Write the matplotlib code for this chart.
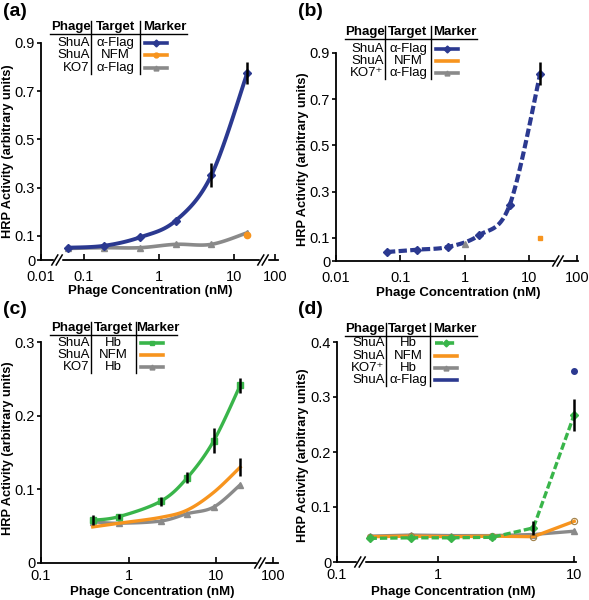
import numpy as np
import matplotlib
matplotlib.use("Agg")
import matplotlib.pyplot as plt
from matplotlib.lines import Line2D

plt.rcParams['font.family'] = ['Liberation Sans', 'DejaVu Sans']

W, H = 589, 600
BLUE = '#2B3990'
ORANGE = '#F7941E'
GRAY = '#8A8A8A'
GREEN = '#39B54A'

# ---------------- data ----------------
# panel (a)
a_conc = [0.062, 0.185, 0.556, 1.67, 5.0, 15.0]
a_shua_flag = [0.051, 0.059, 0.094, 0.163, 0.352, 0.775]
a_shua_flag_err = [0, 0, 0, 0, 0.05, 0.045]
a_ko7_flag = [0.048, 0.051, 0.051, 0.065, 0.065, 0.113]
a_nfm_conc = [15.0]
a_shua_nfm = [0.102]

# panel (b)
b_conc = [0.062, 0.185, 0.556, 1.67, 5.0, 15.0]
b_shua_flag = [0.039, 0.049, 0.061, 0.111, 0.241, 0.81]
b_shua_flag_err = [0, 0, 0, 0, 0, 0.05]
b_ko7_conc = [1.0]
b_ko7_flag = [0.075]
b_nfm_conc = [15.0]
b_shua_nfm = [0.098]

# panel (c)
c_conc = [0.39, 0.78, 2.34, 4.69, 9.38, 18.75]
c_shua_hb = [0.058, 0.063, 0.084, 0.116, 0.166, 0.241]
c_shua_hb_err = [0.007, 0.003, 0.006, 0.008, 0.017, 0.010]
c_shua_nfm = [0.049, 0.054, 0.062, 0.072, 0.096, 0.130]
c_shua_nfm_err = [0, 0, 0, 0, 0, 0.012]
c_ko7_hb = [0.056, 0.054, 0.057, 0.067, 0.076, 0.106]

# panel (d)
d_conc = [0.3125, 0.625, 1.25, 2.5, 5.0, 10.0]
d_shua_hb = [0.043, 0.044, 0.044, 0.045, 0.062, 0.268]
d_shua_hb_err = [0, 0, 0, 0, 0.012, 0.029]
d_shua_nfm = [0.046, 0.047, 0.046, 0.047, 0.046, 0.074]
d_ko7_hb = [0.047, 0.049, 0.048, 0.048, 0.050, 0.056]
d_flag_conc = [10.0]
d_shua_flag = [0.347]

# axis ticks / labels
a_xticks = [0.0267, 0.1, 1, 10, 35.2]
a_xlabels = ['0.01', '0.1', '1', '10', '100']
a_yticks = [0, 0.1, 0.3, 0.5, 0.7, 0.9]
b_xticks = [0.01, 0.1, 1, 10, 56]
b_xlabels = ['0.01', '0.1', '1', '10', '100']
b_yticks = [0, 0.1, 0.3, 0.5, 0.7, 0.9]
c_xticks = [0.1, 1, 10, 45]
c_xlabels = ['0.1', '1', '10', '100']
c_yticks = [0, 0.1, 0.2, 0.3]
d_xticks = [0.18, 1, 10]
d_xlabels = ['0.1', '1', '10']
d_yticks = [0, 0.1, 0.2, 0.3, 0.4]


def ylab(v):
    return '0' if v == 0 else ('%g' % v)


def smooth(xs, ys, n=24):
    u = np.log10(np.asarray(xs, float))
    pts = np.column_stack([u, np.asarray(ys, float)])
    m = len(pts)
    out = []
    t = np.linspace(0, 1, n)[:, None]
    for i in range(m - 1):
        p0 = pts[max(i - 1, 0)]
        p1 = pts[i]
        p2 = pts[i + 1]
        p3 = pts[min(i + 2, m - 1)]
        c1 = p1 + (p2 - p0) / 6.0
        c2 = p2 - (p3 - p1) / 6.0
        seg = (1 - t) ** 3 * p1 + 3 * (1 - t) ** 2 * t * c1 + 3 * (1 - t) * t ** 2 * c2 + t ** 3 * p2
        out.append(seg if i == 0 else seg[1:])
    arr = np.vstack(out)
    return 10 ** arr[:, 0], arr[:, 1]


fig = plt.figure(figsize=(W / 100, H / 100), dpi=100)


def fx(x):
    return x / W


def fy(y):
    return 1 - y / H


def make_ax(l, t, r, b, xpad):
    ax = fig.add_axes([fx(l), fy(b), (r - l) / W, (b - t) / H])
    ax.spines['top'].set_visible(False)
    ax.spines['right'].set_visible(False)
    for s in ('left', 'bottom'):
        ax.spines[s].set_linewidth(1.3)
    ax.set_xscale('log')
    ax.minorticks_off()
    ax.tick_params(axis='y', direction='out', length=3, width=1.2, pad=1.2, labelsize=10.5)
    ax.tick_params(axis='x', direction='in', length=4, width=1.2, pad=xpad, labelsize=10.5)
    ax.set_facecolor('none')
    return ax


def finish(ax, box, xlim, xticks, xlabels, ylim, yticks, xlab_c, ylab_c):
    l, t, r, b = box
    ax.set_xlim(*xlim)
    ax.set_ylim(*ylim)
    ax.set_xticks(xticks)
    ax.set_xticklabels(xlabels)
    ax.minorticks_off()
    ax.set_yticks(yticks)
    ax.set_yticklabels([ylab(v) for v in yticks])
    ax.set_xlabel('Phage Concentration (nM)', fontsize=9.5, fontweight='bold')
    ax.xaxis.label.set_va('center')
    ax.xaxis.set_label_coords((xlab_c[0] - l) / (r - l), (b - xlab_c[1]) / (b - t))
    ax.set_ylabel('HRP Activity (arbitrary units)', fontsize=9.2, fontweight='bold')
    ax.yaxis.label.set_va('center')
    ax.yaxis.set_label_coords((ylab_c[0] - l) / (r - l), (b - ylab_c[1]) / (b - t))


def brk(x, y):
    fig.add_artist(Line2D([fx(x - 2.5), fx(x + 2.5)], [fy(y), fy(y)], color='white', lw=2.5))
    for dx in (-2.2, 2.2):
        fig.add_artist(Line2D([fx(x + dx - 3), fx(x + dx + 3)], [fy(y + 5), fy(y - 5)],
                              color='black', lw=1.1))


def table(x0, x1, s1, s2, hy, uy, rows_y, rows):
    hfs = 9.5
    rfs = 9.5
    fig.text(fx((x0 + s1) / 2), fy(hy), 'Phage', ha='center', va='center', fontsize=hfs, fontweight='bold')
    fig.text(fx((s1 + s2) / 2), fy(hy), 'Target', ha='center', va='center', fontsize=hfs, fontweight='bold')
    fig.text(fx((s2 + x1) / 2 + 1), fy(hy), 'Marker', ha='center', va='center', fontsize=hfs, fontweight='bold')
    fig.add_artist(Line2D([fx(x0), fx(x1)], [fy(uy), fy(uy)], color='black', lw=1.0))
    for s in (s1, s2):
        fig.add_artist(Line2D([fx(s), fx(s)], [fy(hy - 6), fy(rows_y[-1] + 6)], color='black', lw=1.0))
    for ry, (ph, tg, style) in zip(rows_y, rows):
        fig.text(fx(s1 - 1.5), fy(ry), ph, ha='right', va='center', fontsize=rfs)
        fig.text(fx((s1 + s2) / 2), fy(ry), tg, ha='center', va='center', fontsize=rfs)
        mx0, mx1 = s2 + 5, s2 + 27
        fig.add_artist(Line2D([fx(mx0), fx((mx0 + mx1) / 2), fx(mx1)], [fy(ry)] * 3, **style))


def st(color, marker=None, ls='-', ms=3.5, lw=2.6, mfc=None):
    d = dict(color=color, lw=lw, ls=ls)
    if marker:
        d.update(marker=marker, markersize=ms, markevery=[1], markerfacecolor=mfc or color,
                 markeredgecolor=color)
    return d


def errs(ax, x, y, e, lw=1.8):
    xs = [a for a, v in zip(x, e) if v > 0]
    ys = [b for b, v in zip(y, e) if v > 0]
    es = [v for v in e if v > 0]
    if xs:
        ax.errorbar(xs, ys, yerr=es, fmt='none', ecolor='black', elinewidth=lw, capsize=0, zorder=10)


# ---------------- panel (a) ----------------
boxA = (41, 43, 278, 260)
ax = make_ax(*boxA, xpad=7)
sx, sy = smooth(a_conc, a_ko7_flag)
ax.plot(sx, sy, color=GRAY, lw=2.6, zorder=3)
ax.plot(a_conc, a_ko7_flag, ls='none', marker='^', ms=5, color=GRAY, zorder=3)
sx, sy = smooth(a_conc, a_shua_flag)
ax.plot(sx, sy, color=BLUE, lw=2.8, zorder=4)
ax.plot(a_conc, a_shua_flag, ls='none', marker='D', ms=4, color=BLUE, zorder=4)
ax.plot(a_nfm_conc, a_shua_nfm, ls='none', marker='o', ms=4.5, color=ORANGE, zorder=3)
errs(ax, a_conc, a_shua_flag, a_shua_flag_err)
finish(ax, boxA, (0.0267, 38.6), a_xticks, a_xlabels, (0, 0.9), a_yticks, (150, 291), (8, 151))
brk(57, 260)
brk(263, 260)
table(50, 187, 91, 140, 27, 34, [43, 55, 68],
      [('ShuA', 'α-Flag', st(BLUE, 'D')), ('ShuA', 'NFM', st(ORANGE, 'o')),
       ('KO7', 'α-Flag', st(GRAY, '^'))])
fig.text(fx(3), fy(11), '(a)', ha='left', va='center', fontsize=14, fontweight='bold')

# ---------------- panel (b) ----------------
boxB = (336, 53, 578, 261)
ax = make_ax(*boxB, xpad=7)
sx, sy = smooth(b_conc, b_shua_flag)
ax.plot(sx, sy, color=BLUE, lw=3.0, ls=(0, (2.0, 0.8)), zorder=4)
ax.plot(b_conc, b_shua_flag, ls='none', marker='D', ms=4, color=BLUE, zorder=4)
ax.plot(b_ko7_conc, b_ko7_flag, ls='none', marker='^', ms=5, color=GRAY, zorder=5)
ax.plot(b_nfm_conc, b_shua_nfm, ls='none', marker='s', ms=3, color=ORANGE, zorder=3)
errs(ax, b_conc, b_shua_flag, b_shua_flag_err)
finish(ax, boxB, (0.01, 58), b_xticks, b_xlabels, (0, 0.9), b_yticks, (458, 293), (303, 159))
brk(558, 261)
table(345, 477, 385, 431, 32, 39, [49, 61, 73],
      [('ShuA', 'α-Flag', st(BLUE, 'D')), ('ShuA', 'NFM', st(ORANGE)),
       ('KO7⁺', 'α-Flag', st(GRAY, '^'))])
fig.text(fx(298), fy(12), '(b)', ha='left', va='center', fontsize=14, fontweight='bold')

# ---------------- panel (c) ----------------
boxC = (41, 342, 278, 563)
ax = make_ax(*boxC, xpad=4.5)
sx, sy = smooth(c_conc, c_ko7_hb)
ax.plot(sx, sy, color=GRAY, lw=2.4, zorder=3)
ax.plot(c_conc, c_ko7_hb, ls='none', marker='^', ms=5, color=GRAY, zorder=3)
sx, sy = smooth(c_conc, c_shua_nfm)
ax.plot(sx, sy, color=ORANGE, lw=2.4, zorder=4)
sx, sy = smooth(c_conc, c_shua_hb)
ax.plot(sx, sy, color=GREEN, lw=2.4, zorder=5)
ax.plot(c_conc, c_shua_hb, ls='none', marker='s', ms=4, color=GREEN, zorder=5)
errs(ax, c_conc, c_shua_hb, c_shua_hb_err)
errs(ax, c_conc, c_shua_nfm, c_shua_nfm_err)
finish(ax, boxC, (0.1, 50.7), c_xticks, c_xlabels, (0, 0.3), c_yticks, (152, 592), (8, 448))
brk(260, 563)
table(50, 177, 91, 136, 328, 335, [343, 355, 367],
      [('ShuA', 'Hb', st(GREEN, 's')), ('ShuA', 'NFM', st(ORANGE)),
       ('KO7', 'Hb', st(GRAY, '^'))])
fig.text(fx(3), fy(309), '(c)', ha='left', va='center', fontsize=14, fontweight='bold')

# ---------------- panel (d) ----------------
boxD = (337, 342, 576, 562)
ax = make_ax(*boxD, xpad=4.5)
ax.plot(d_conc, d_ko7_hb, color=GRAY, lw=2.4, marker='^', ms=5, zorder=3, clip_on=False)
ax.plot(d_conc, d_shua_nfm, color=ORANGE, lw=2.4, marker='o', ms=4.5, mfc='none',
        mec='#A08048', mew=0.8, zorder=4, clip_on=False)
ax.plot(d_conc, d_shua_hb, color=GREEN, lw=2.4, ls=(0, (2.2, 0.9)), marker='D', ms=4,
        zorder=5, clip_on=False)
ax.plot(d_flag_conc, d_shua_flag, ls='none', marker='o', ms=4, color=BLUE, zorder=5, clip_on=False)
errs(ax, d_conc, d_shua_hb, d_shua_hb_err)
finish(ax, boxD, (0.18, 10.3), d_xticks, d_xlabels, (0, 0.4), d_yticks, (453, 592), (303, 455))
brk(360, 562)
table(345, 477, 386, 430, 329, 336, [343, 356, 368, 380],
      [('ShuA', 'Hb', st(GREEN, 'D', ls=(0, (2.2, 0.9)))), ('ShuA', 'NFM', st(ORANGE)),
       ('KO7⁺', 'Hb', st(GRAY, '^')), ('ShuA', 'α-Flag', st(BLUE))])
fig.text(fx(298), fy(309), '(d)', ha='left', va='center', fontsize=14, fontweight='bold')

fig.savefig('out.png', dpi=100)
